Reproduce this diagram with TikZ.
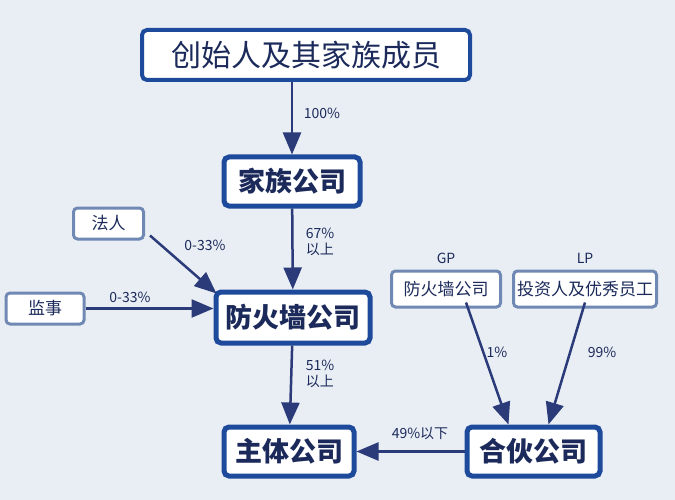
\documentclass[tikz,border=0pt]{standalone}
\usepackage{fontspec}
\newfontfamily\cjk{Noto Sans CJK SC}
\usetikzlibrary{arrows.meta}
\definecolor{bg}{HTML}{E9EEF5}
\definecolor{navy}{HTML}{1B2A5A}
\definecolor{bord}{HTML}{1E4A9C}
\definecolor{lite}{HTML}{7088B4}
\definecolor{arr}{HTML}{2B3A78}
\begin{document}
\begin{tikzpicture}[x=1pt,y=-1pt,
 big/.style={draw=bord,line width=5pt,rounded corners=5pt,fill=white,text=navy,font=\cjk\bfseries\fontsize{27}{29}\selectfont,inner sep=0pt},
 small/.style={draw=lite,line width=3pt,rounded corners=4pt,fill=white,text=navy,font=\cjk\fontsize{17}{19}\selectfont,inner sep=0pt},
 lab/.style={text=navy,font=\cjk\fontsize{14}{16}\selectfont,align=left},
 ar/.style={draw=arr,line width=2.5pt,-{Triangle[length=22pt,width=18pt]}}]
\fill[bg] (0,0) rectangle (675,500);
\useasboundingbox (0,0) rectangle (675,500);
\node[big,minimum width=328pt,minimum height=50pt,line width=4pt,font=\cjk\fontsize{30}{32}\selectfont] (top) at (306,55) {创始人及其家族成员};
\node[big,minimum width=136pt,minimum height=49pt] (fam) at (292,181.5) {家族公司};
\node[big,minimum width=154pt,minimum height=51pt] (fw) at (293,317.5) {防火墙公司};
\node[big,minimum width=130pt,minimum height=49pt] (main) at (289,451.5) {主体公司};
\node[big,minimum width=133pt,minimum height=49pt] (hh) at (533.5,451.5) {合伙公司};
\node[small,minimum width=70pt,minimum height=31pt] (fr) at (108.5,223.5) {法人};
\node[small,minimum width=78pt,minimum height=31pt] (js) at (45,308.5) {监事};
\node[small,minimum width=109pt,minimum height=36pt] (gp) at (446,289) {防火墙公司};
\node[small,minimum width=143pt,minimum height=36pt] (lp) at (585,289) {投资人及优秀员工};
\node[lab] at (446,258) {GP};
\node[lab] at (585,258) {LP};
\draw[ar] (top.south -| fam) -- (fam.north);
\node[lab] at (322,113) {100\%};
\draw[ar] (fam) -- (fw);
\node[lab] at (320,242) {67\%\\以上};
\draw[ar] ([xshift=5pt,yshift=5pt]fr.south east) -- ([xshift=3pt,yshift=-4pt]fw.north west);
\node[lab] at (205,245) {0-33\%};
\draw[ar] (js.east) -- (js.east -| fw.west);
\node[lab] at (130,297) {0-33\%};
\draw[ar] (fw) -- (main);
\node[lab] at (320,374) {51\%\\以上};
\draw[ar] ([xshift=20pt,yshift=6pt]gp.south) -- ([xshift=-25pt]hh.north);
\node[lab] at (497,352) {1\%};
\draw[ar] ([yshift=6pt]lp.south) -- ([xshift=15pt]hh.north);
\node[lab] at (602,352) {99\%};
\draw[ar] (hh) -- (main);
\node[lab] at (420,433) {49\%以下};
\end{tikzpicture}
\end{document}
